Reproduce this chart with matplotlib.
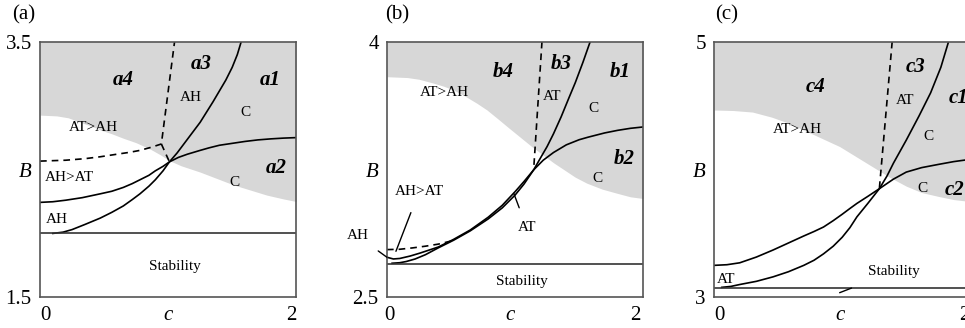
import matplotlib
matplotlib.use('Agg')
import matplotlib.pyplot as plt

plt.rcParams['font.family'] = ['Liberation Serif', 'DejaVu Serif']

GREY = '#d7d7d7'

# ---- panel (a) ----
a_grey_c = [0, 0.13, 0.22, 0.3, 0.4, 0.47, 0.56, 0.65, 0.75, 0.86, 0.94, 1.01, 1.1, 1.25,
            1.38, 1.51, 1.64, 1.77, 1.9, 2.0]
a_grey_B = [2.926, 2.92, 2.905, 2.875, 2.84, 2.81, 2.78, 2.745, 2.71, 2.66, 2.615, 2.57, 2.53,
            2.48, 2.43, 2.38, 2.34, 2.30, 2.27, 2.25]
a_low_c = [0.1, 0.18, 0.25, 0.35, 0.47, 0.56, 0.65, 0.72, 0.78, 0.85, 0.9, 0.96, 1.01, 1.07,
           1.13, 1.19, 1.25, 1.3, 1.35, 1.4, 1.45, 1.5, 1.54, 1.57]
a_low_B = [2.0, 2.01, 2.03, 2.07, 2.12, 2.165, 2.215, 2.265, 2.31, 2.37, 2.42, 2.49, 2.56, 2.63,
           2.71, 2.79, 2.87, 2.95, 3.03, 3.115, 3.2, 3.3, 3.4, 3.5]
a_up_c = [0, 0.1, 0.2, 0.33, 0.47, 0.56, 0.65, 0.72, 0.78, 0.85, 0.9, 0.96, 1.01, 1.08, 1.15,
          1.25, 1.32, 1.4, 1.5, 1.6, 1.7, 1.8, 1.9, 2.0]
a_up_B = [2.243, 2.248, 2.26, 2.28, 2.31, 2.33, 2.36, 2.39, 2.42, 2.455, 2.49, 2.525, 2.56, 2.595,
          2.62, 2.65, 2.67, 2.69, 2.705, 2.72, 2.732, 2.74, 2.746, 2.75]
a_dash_c = [0, 0.2, 0.35, 0.47, 0.6, 0.7, 0.78, 0.87, 0.947, 1.05]
a_dash_B = [2.566, 2.573, 2.585, 2.60, 2.62, 2.635, 2.65, 2.675, 2.70, 3.5]
a_dash2_c = [0.947, 1.01]
a_dash2_B = [2.70, 2.56]
a_stab = 2.0

# ---- panel (b) ----
b_grey_c = [0, 0.16, 0.25, 0.35, 0.44, 0.52, 0.6, 0.7, 0.78, 0.87, 0.95, 1.04, 1.13, 1.22,
            1.3, 1.39, 1.47, 1.56, 1.68, 1.8, 1.9, 2.0]
b_grey_B = [3.795, 3.79, 3.78, 3.76, 3.74, 3.717, 3.685, 3.64, 3.60, 3.545, 3.495, 3.44, 3.385,
            3.335, 3.29, 3.245, 3.205, 3.17, 3.135, 3.11, 3.09, 3.08]
b_up_c = [0, 0.05, 0.1, 0.18, 0.26, 0.4, 0.52, 0.65, 0.79, 0.9, 1.0, 1.07, 1.145, 1.22, 1.3,
          1.4, 1.5, 1.57, 1.7, 1.8, 1.9, 2.0]
b_up_B = [2.735, 2.725, 2.728, 2.742, 2.76, 2.795, 2.84, 2.895, 2.97, 3.04, 3.12, 3.18, 3.248,
          3.305, 3.35, 3.395, 3.425, 3.44, 3.465, 3.48, 3.492, 3.50]
b_low_c = [0.04, 0.1, 0.15, 0.22, 0.3, 0.4, 0.52, 0.65, 0.79, 0.9, 1.0, 1.07, 1.145, 1.2, 1.25,
           1.3, 1.36, 1.42, 1.47, 1.53, 1.586]
b_low_B = [2.70, 2.703, 2.71, 2.725, 2.75, 2.79, 2.835, 2.89, 2.96, 3.025, 3.10, 3.165, 3.248,
           3.32, 3.385, 3.46, 3.56, 3.67, 3.76, 3.88, 4.0]
b_dash_c = [0, 0.1, 0.2, 0.3, 0.4, 0.5]
b_dash_B = [2.78, 2.782, 2.79, 2.80, 2.812, 2.83]
b_vdash_c = [1.21, 1.145]
b_vdash_B = [4.0, 3.248]
b_stab = 2.695

# ---- panel (c) ----
c_grey_c = [0, 0.15, 0.3, 0.45, 0.59, 0.72, 0.85, 0.98, 1.11, 1.24, 1.37, 1.5, 1.62, 1.75,
            1.87, 2.0]
c_grey_B = [4.466, 4.462, 4.45, 4.41, 4.36, 4.3, 4.24, 4.18, 4.10, 4.02, 3.94, 3.87, 3.82, 3.79,
            3.765, 3.75]
c_up_c = [0, 0.1, 0.2, 0.33, 0.46, 0.58, 0.7, 0.78, 0.854, 0.93, 1.0, 1.06, 1.115, 1.2, 1.29,
          1.4, 1.5, 1.62, 1.75, 1.87, 2.0]
c_up_B = [3.25, 3.255, 3.27, 3.315, 3.37, 3.425, 3.48, 3.515, 3.55, 3.6, 3.65, 3.695, 3.735,
          3.79, 3.85, 3.925, 3.98, 4.015, 4.04, 4.062, 4.08]
c_low_c = [0.06, 0.13, 0.2, 0.33, 0.46, 0.58, 0.7, 0.78, 0.854, 0.93, 1.0, 1.06, 1.115, 1.2,
           1.29, 1.35, 1.4, 1.45, 1.5, 1.55, 1.6, 1.65, 1.69, 1.73, 1.77, 1.8, 1.83]
c_low_B = [3.078, 3.085, 3.10, 3.125, 3.16, 3.2, 3.25, 3.29, 3.34, 3.4, 3.47, 3.545, 3.63, 3.735,
           3.85, 3.95, 4.05, 4.14, 4.23, 4.325, 4.42, 4.52, 4.6, 4.7, 4.8, 4.9, 5.0]
c_vdash_c = [1.39, 1.29]
c_vdash_B = [5.0, 3.85]
c_stab = 3.07

fig = plt.figure(figsize=(9.65, 3.28), dpi=100)
W = 0.2655
H = 0.779
y0 = 0.0936
axa = fig.add_axes([0.0415, y0, W, H])
axb = fig.add_axes([0.401, y0, W, H])
axc = fig.add_axes([0.740, y0, W, H])


def setup(ax, ylo, yhi, xt):
    ax.set_xlim(0, 2)
    ax.set_ylim(ylo, yhi)
    ax.set_xticks(xt)
    ax.set_xticklabels(['0', 'c', '2'], fontsize=15)
    ax.set_yticks([ylo, (ylo + yhi) / 2, yhi])
    ax.set_yticklabels([f'{ylo:g}', 'B', f'{yhi:g}'], fontsize=15)
    ax.get_xticklabels()[1].set_fontstyle('italic')
    ax.get_yticklabels()[1].set_fontstyle('italic')
    ax.tick_params(length=0, pad=6)
    for s in ax.spines.values():
        s.set_color('#555555')
        s.set_linewidth(1.2)


def grey(ax, c, B, top):
    ax.fill_between(c, B, top, color=GREY, lw=0)


lw = 1.2
dash = (4, 3)

# panel a
grey(axa, a_grey_c, a_grey_B, 3.5)
axa.plot(a_low_c, a_low_B, 'k', lw=lw)
axa.plot(a_up_c, a_up_B, 'k', lw=lw)
axa.plot(a_dash_c, a_dash_B, 'k--', lw=lw, dashes=dash)
axa.plot(a_dash2_c, a_dash2_B, 'k--', lw=lw, dashes=dash)
axa.axhline(a_stab, color='#333333', lw=1.2)
setup(axa, 1.5, 3.5, [0.04, 1.0, 1.96])
for t, x, y in [('a4', 0.65, 3.2), ('a3', 1.26, 3.33), ('a1', 1.8, 3.2), ('a2', 1.84, 2.51)]:
    axa.text(x, y, t, fontsize=15, fontweight='bold', fontstyle='italic', ha='center', va='center')
for t, x, y in [('AH', 1.18, 3.06), ('C', 1.6, 2.95), ('AT>AH', 0.42, 2.83), ('AH>AT', 0.23, 2.44),
                ('C', 1.52, 2.40), ('AH', 0.13, 2.11), ('Stability', 1.05, 1.74)]:
    axa.text(x, y, t, fontsize=11, ha='center', va='center')

# panel b
grey(axb, b_grey_c, b_grey_B, 4.0)
axb.plot(b_up_c, b_up_B, 'k', lw=lw)
axb.plot(b_low_c, b_low_B, 'k', lw=lw)
axb.plot(b_dash_c, b_dash_B, 'k--', lw=lw, dashes=dash)
axb.plot(b_vdash_c, b_vdash_B, 'k--', lw=lw, dashes=dash)
axb.axhline(b_stab, color='#333333', lw=1.2)
setup(axb, 2.5, 4.0, [0.02, 0.96, 1.94])
for t, x, y in [('b4', 0.91, 3.82), ('b3', 1.36, 3.87), ('b1', 1.82, 3.82), ('b2', 1.85, 3.31)]:
    axb.text(x, y, t, fontsize=15, fontweight='bold', fontstyle='italic', ha='center', va='center')
for t, x, y in [('AT>AH', 0.45, 3.70), ('AT', 1.29, 3.68), ('C', 1.61, 3.61), ('C', 1.64, 3.20),
                ('Stability', 1.05, 2.59)]:
    axb.text(x, y, t, fontsize=11, ha='center', va='center')
axb.annotate('AT', xy=(0.99, 3.11), xytext=(1.09, 2.91), fontsize=11, ha='center', va='center',
             arrowprops=dict(arrowstyle='-', color='k', lw=1.0, shrinkA=8, shrinkB=0))
axb.annotate('AH>AT', xy=(0.07, 2.77), xytext=(0.25, 3.12), fontsize=11, ha='center', va='center',
             arrowprops=dict(arrowstyle='-', color='k', lw=1.0, shrinkA=9, shrinkB=0))
axb.annotate('AH', xy=(0.0, 2.735), xytext=(-0.23, 2.86), fontsize=11, ha='center', va='center',
             arrowprops=dict(arrowstyle='-', color='k', lw=1.0, shrinkA=7, shrinkB=0),
             annotation_clip=False)

# panel c
grey(axc, c_grey_c, c_grey_B, 5.0)
axc.plot(c_up_c, c_up_B, 'k', lw=lw)
axc.plot(c_low_c, c_low_B, 'k', lw=lw)
axc.plot(c_vdash_c, c_vdash_B, 'k--', lw=lw, dashes=dash)
axc.axhline(c_stab, color='#333333', lw=1.2)
setup(axc, 3, 5, [0.04, 0.98, 1.95])
for t, x, y in [('c4', 0.79, 4.65), ('c3', 1.57, 4.80), ('c1', 1.91, 4.56), ('c2', 1.88, 3.84)]:
    axc.text(x, y, t, fontsize=15, fontweight='bold', fontstyle='italic', ha='center', va='center')
for t, x, y in [('AT', 1.49, 4.54), ('C', 1.67, 4.26), ('AT>AH', 0.65, 4.31), ('C', 1.63, 3.85),
                ('AT', 0.09, 3.14)]:
    axc.text(x, y, t, fontsize=11, ha='center', va='center')
axc.annotate('Stability', xy=(0.98, 3.036), xytext=(1.4, 3.2), fontsize=11, ha='center', va='center',
             arrowprops=dict(arrowstyle='-', color='k', lw=1.0, shrinkA=14, shrinkB=0))

fig.text(0.0125, 0.954, '(a)', fontsize=15, va='center')
fig.text(0.399, 0.954, '(b)', fontsize=15, va='center')
fig.text(0.741, 0.954, '(c)', fontsize=15, va='center')

fig.savefig('out.png', dpi=100)
